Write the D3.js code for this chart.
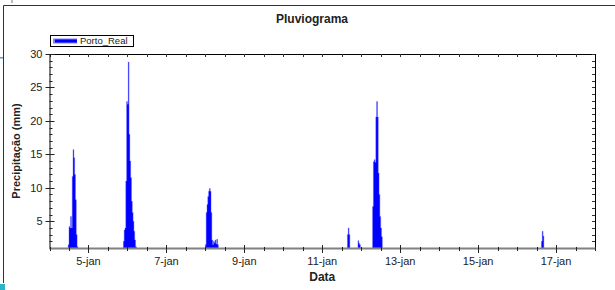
<!DOCTYPE html>
<html>
<head>
<meta charset="utf-8">
<script src="https://cdn.jsdelivr.net/npm/d3@7"></script>
<style>
  body { margin: 0; background: #fff; }
  text { font-family: "Liberation Sans", Arial, sans-serif; fill: #222; }
</style>
</head>
<body>
<svg id="chart"></svg>
<script>
// svg params
var svgWidth = 615, svgHeight = 290;
var margin = {left: 49.5, right: 20, top: 54, bottom: 42};

// data: rain events, start time (hours after 4-jan 00:00) and 30 min values (mm)
var stepHours = 0.5;
var eventStarts = [11.5, 45.5, 96, 183.5, 190, 199, 303];
var event1 = [1.5, 4.2, 4.0, 5.7, 4.0, 11.7, 15.7, 14.5, 12.0, 8.2, 3.0, 1.2];
var event2 = [2.0, 3.7, 4.0, 11.0, 22.9, 22.5, 28.8, 18.0, 14.0, 11.5, 8.0, 6.3, 5.0, 3.5, 2.2, 1.2];
var event3 = [1.5, 6.3, 7.5, 8.7, 9.5, 9.9, 9.5, 6.3, 2.2, 1.5, 2.0, 1.8, 2.2, 1.6, 2.3, 1.5];
var event4 = [3.0, 4.0, 3.0];
var event5 = [2.1, 1.7, 1.5];
var event6 = [7.2, 13.9, 14.2, 13.8, 20.6, 22.9, 20.6, 12.2, 9.0, 5.7, 4.0, 2.7];
var event7 = [2.0, 3.5, 2.8];
var events = [event1, event2, event3, event4, event5, event6, event7];

var yTicks = [5, 10, 15, 20, 25, 30];
var xTickDays = [5, 7, 9, 11, 13, 15, 17];
var xTickLabels = ["5-jan", "7-jan", "9-jan", "11-jan", "13-jan", "15-jan", "17-jan"];
var seriesName = "Porto_Real";

var day = function (d) { return new Date(Date.UTC(2010, 0, d)); };
var t0 = day(4);

var xScale = d3.scaleUtc()
  .domain([day(4), day(18)])
  .range([margin.left, svgWidth - margin.right]);

var yScale = d3.scaleLinear()
  .domain([1, 30])
  .range([svgHeight - margin.bottom, margin.top]);

var svg = d3.select("#chart")
  .attr("width", svgWidth)
  .attr("height", svgHeight);

var x0 = margin.left, x1 = svgWidth - margin.right;
var y0 = svgHeight - margin.bottom, y1 = margin.top;

// window frame
svg.append("path").attr("d", "M3.5,283 V5.5 H615").attr("fill", "none").attr("stroke", "#333");
svg.append("rect").attr("x", 0).attr("y", 284).attr("width", 5).attr("height", 6).attr("fill", "#2bb5c9");
svg.append("rect").attr("x", 0).attr("y", 57).attr("width", 3).attr("height", 1.5).attr("fill", "#5a9bd5");
svg.append("rect").attr("x", 11).attr("y", 0).attr("width", 2).attr("height", 3).attr("fill", "#bbb");

// rain as stepped areas
svg.append("clipPath").attr("id", "plot")
  .append("rect").attr("x", x0).attr("y", y1).attr("width", x1 - x0).attr("height", y0 - y1);

var toPoints = function (vals, i) {
  var pts = vals.map(function (v, j) {
    return {t: d3.utcMinute.offset(t0, (eventStarts[i] + j * stepHours) * 60), v: v};
  });
  pts.push({t: d3.utcMinute.offset(t0, (eventStarts[i] + vals.length * stepHours) * 60), v: 1});
  return pts;
};

var area = d3.area()
  .curve(d3.curveStepAfter)
  .x(function (d) { return xScale(d.t); })
  .y0(yScale(1))
  .y1(function (d) { return yScale(d.v); });

svg.append("g").attr("clip-path", "url(#plot)")
  .selectAll("path")
  .data(events)
  .enter()
  .append("path")
  .attr("d", function (d, i) { return area(toPoints(d, i)); })
  .attr("fill", "#0000ff")
  .attr("stroke", "#5a5aff")
  .attr("stroke-width", 0.4);

// axes
var halfDays = d3.range(0, 14.01, 0.5).map(function (h) { return d3.utcHour.offset(t0, h * 24); });
var minorY = d3.range(1, 31);

// top + right axes (ticks inside)
svg.append("line").attr("x1", x0).attr("x2", x1).attr("y1", y1 + 0.5).attr("y2", y1 + 0.5).attr("stroke", "#000");
svg.append("g").selectAll("line").data(halfDays).enter().append("line")
  .attr("x1", function (d) { return Math.round(xScale(d)) + 0.5; })
  .attr("x2", function (d) { return Math.round(xScale(d)) + 0.5; })
  .attr("y1", y1).attr("y2", y1 + 3)
  .attr("stroke", "#333");
svg.append("line").attr("x1", x1 + 0.5).attr("x2", x1 + 0.5).attr("y1", y1).attr("y2", y0).attr("stroke", "#000");
svg.append("g").selectAll("line").data(minorY).enter().append("line")
  .attr("x1", x1 - 3).attr("x2", x1)
  .attr("y1", function (d) { return Math.round(yScale(d)) + 0.5; })
  .attr("y2", function (d) { return Math.round(yScale(d)) + 0.5; })
  .attr("stroke", "#333");

// left axis
svg.append("line").attr("x1", x0 + 0.5).attr("x2", x0 + 0.5).attr("y1", y1).attr("y2", y0).attr("stroke", "#000");
svg.append("g").selectAll("line").data(minorY).enter().append("line")
  .attr("x1", function (d) { return yTicks.indexOf(d) >= 0 ? x0 - 4 : x0; })
  .attr("x2", function (d) { return yTicks.indexOf(d) >= 0 ? x0 + 5 : x0 + 3; })
  .attr("y1", function (d) { return Math.round(yScale(d)) + 0.5; })
  .attr("y2", function (d) { return Math.round(yScale(d)) + 0.5; })
  .attr("stroke", "#222");
svg.append("g").selectAll("text").data(yTicks).enter().append("text")
  .attr("x", x0 - 7)
  .attr("y", function (d) { return yScale(d) + 4; })
  .attr("text-anchor", "end")
  .attr("font-size", 11)
  .text(function (d) { return d; });

// bottom axis (grey line)
svg.append("line").attr("x1", x0).attr("x2", x1 + 1).attr("y1", y0 + 0.5).attr("y2", y0 + 0.5)
  .attr("stroke", "#808080").attr("stroke-width", 2);
svg.append("g").selectAll("line").data(halfDays).enter().append("line")
  .attr("x1", function (d) { return Math.round(xScale(d)) + 0.5; })
  .attr("x2", function (d) { return Math.round(xScale(d)) + 0.5; })
  .attr("y1", function (d, i) { return i % 4 === 2 ? y0 - 3 : y0 - 1; })
  .attr("y2", function (d, i) { return i % 4 === 2 ? y0 + 5 : y0 + 3; })
  .attr("stroke", "#222");
svg.append("g").selectAll("text").data(xTickDays).enter().append("text")
  .attr("x", function (d) { return xScale(day(d)); })
  .attr("y", y0 + 17)
  .attr("text-anchor", "middle")
  .attr("font-size", 11)
  .text(function (d, i) { return xTickLabels[i]; });

// titles
svg.append("text").attr("x", 312).attr("y", 23).attr("text-anchor", "middle")
  .attr("font-size", 12).attr("font-weight", "bold").text("Pluviograma");
svg.append("text").attr("x", (x0 + x1) / 2).attr("y", 281).attr("text-anchor", "middle")
  .attr("font-size", 12).attr("font-weight", "bold").text("Data");
svg.append("text")
  .attr("transform", "translate(20," + ((y0 + y1) / 2) + ") rotate(-90)")
  .attr("text-anchor", "middle")
  .attr("font-size", 11).attr("font-weight", "bold")
  .text("Precipitação (mm)");

// legend
var legend = svg.append("g");
legend.append("rect").attr("x", 50.5).attr("y", 35.5).attr("width", 83).attr("height", 11)
  .attr("fill", "#fff").attr("stroke", "#000");
legend.append("rect").attr("x", 53).attr("y", 38.5).attr("width", 24).attr("height", 5).attr("fill", "#7f7fff");
legend.append("rect").attr("x", 55).attr("y", 39.5).attr("width", 22).attr("height", 3).attr("fill", "#0000ff");
legend.append("text").attr("x", 80).attr("y", 43.5).attr("font-size", 9.5).text(seriesName);
</script>
</body>
</html>
